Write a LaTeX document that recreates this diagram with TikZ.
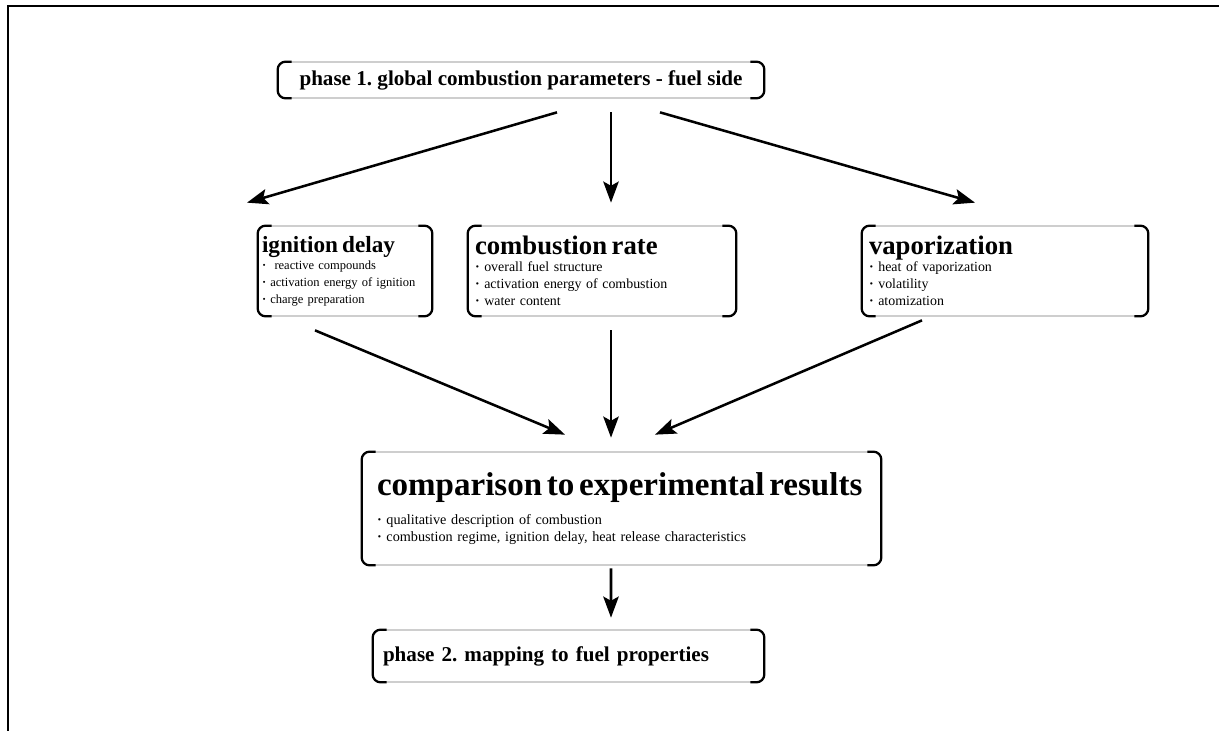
\documentclass[tikz,border=0pt]{standalone}
\usepackage{fontspec}
\setmainfont{Liberation Serif}
\usetikzlibrary{arrows.meta}

\newlength\px
\setlength\px{0.025cm}
% title and bullet lines inside the boxes
\newcommand\boxtitle[1]{{\fontsize{19}{21}\selectfont\bfseries #1}}
\newcommand\bul[1]{\textbf{\textperiodcentered}\ #1}
\frenchspacing

\begin{document}
\begin{tikzpicture}[x=0.025cm,y=-0.025cm,
  box/.style={draw=black!55,line width=0.5pt,rounded corners=8\px,
    inner ysep=0pt,align=left,font=\fontsize{9.9}{12}\selectfont},
  phasebox/.style={box,font=\fontsize{15}{18}\selectfont\bfseries},
  side/.style={line width=1.6pt,rounded corners=8\px},
  arr/.style={line width=1.8pt,-{Stealth[length=15pt,width=11pt,inset=3pt]}}]
\useasboundingbox (0,0) rectangle (1219,731);
\draw[line width=1.3pt] (8,731) -- (8,6) -- (1219,6);

% phase 1 and the three parameter groups
\node[phasebox,align=center,minimum width=486\px,minimum height=36\px] (phaseone) at (521,80)
  {phase 1. global combustion parameters - fuel side};
\node[box,font=\fontsize{8.9}{12}\selectfont,minimum width=174\px,minimum height=90\px,text width=166\px,inner xsep=4\px] (ignition) at (345,271)
  {{\fontsize{16.5}{19}\selectfont\bfseries ignition delay}\\ \bul{\ reactive compounds}\\ \bul{activation energy of ignition}\\ \bul{charge preparation}};
\node[box,minimum width=268\px,minimum height=90\px,text width=254\px,inner xsep=7\px] (rate) at (602,271)
  {\boxtitle{combustion rate}\\ \bul{overall fuel structure}\\ \bul{activation energy of combustion}\\ \bul{water content}};
\node[box,minimum width=286\px,minimum height=90\px,text width=272\px,inner xsep=7\px] (vapor) at (1005,271)
  {\boxtitle{vaporization}\\ \bul{heat of vaporization}\\ \bul{volatility}\\ \bul{atomization}};

% comparison and phase 2
\node[box,font=\fontsize{10.1}{12}\selectfont,minimum width=519\px,minimum height=113\px,text width=489\px,inner xsep=15\px] (compare) at (621.5,508.5)
  {{\fontsize{23.5}{25}\selectfont\bfseries comparison to experimental results}\\[7pt]
   \bul{qualitative description of combustion}\\ \bul{combustion regime, ignition delay, heat release characteristics}};
\node[phasebox,minimum width=391\px,minimum height=52\px,text width=371\px,inner xsep=10\px] (phasetwo) at (568.5,656)
  {phase 2. mapping to fuel properties};

% bracket sides of the boxes
\foreach \n in {phaseone,ignition,rate,vapor,compare,phasetwo}{
  \draw[side] ([xshift=14\px]\n.north west) -- (\n.north west) -- (\n.south west) -- ([xshift=14\px]\n.south west);
  \draw[side] ([xshift=-14\px]\n.north east) -- (\n.north east) -- (\n.south east) -- ([xshift=-14\px]\n.south east);
}

\draw[arr] ([xshift=36\px,yshift=-14\px]phaseone.south) -- ([xshift=-98\px,yshift=23\px]ignition.north);
\draw[arr] ([xshift=90\px,yshift=-14\px]phaseone.south) -- ([xshift=9\px,yshift=23\px]rate.north);
\draw[arr] ([xshift=139\px,yshift=-14\px]phaseone.south) -- ([xshift=-30\px,yshift=23\px]vapor.north);
\draw[arr] ([xshift=-30\px,yshift=-14\px]ignition.south) -- ([xshift=-56.5\px,yshift=17\px]compare.north);
\draw[arr] ([xshift=9\px,yshift=-14\px]rate.south) -- ([xshift=-10.5\px,yshift=14\px]compare.north);
\draw[arr] ([xshift=-83\px,yshift=-4\px]vapor.south) -- ([xshift=33.5\px,yshift=17\px]compare.north);
\draw[arr] ([xshift=-10.5\px,yshift=-3\px]compare.south) -- ([xshift=42.5\px,yshift=12\px]phasetwo.north);
\end{tikzpicture}
\end{document}
